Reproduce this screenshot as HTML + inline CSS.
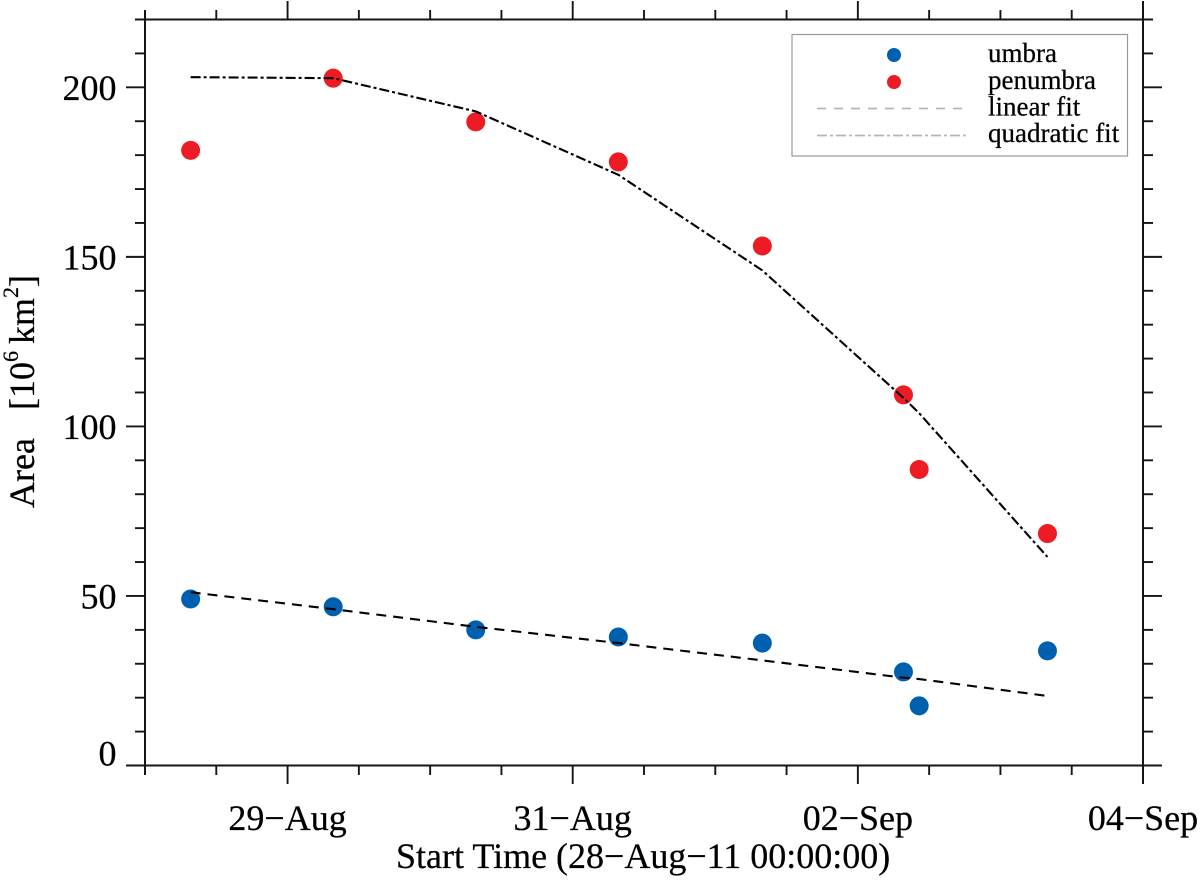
<!DOCTYPE html>
<html lang="en">
<head>
<meta charset="utf-8">
<title>Umbra and penumbra area over time</title>
<style>
html,body{margin:0;padding:0;background:#fff;}
svg{display:block;}
text{font-family:"Liberation Serif",serif;fill:#000;stroke:#000;stroke-width:.25px;}
</style>
</head>
<body>
<svg id="chart" xmlns="http://www.w3.org/2000/svg" width="1200" height="881" viewBox="0 0 1200 881"></svg>
<script>
const xMajorDays = [1, 3, 5, 7];
const xMajorLabels = ["29\u2212Aug", "31\u2212Aug", "02\u2212Sep", "04\u2212Sep"];
const xMinorDays = [0, 0.5, 1.5, 2, 2.5, 3.5, 4, 4.5, 5.5, 6, 6.5];
const yMajorValues = [0, 50, 100, 150, 200];
const yMinorValues = [10, 20, 30, 40, 60, 70, 80, 90, 110, 120, 130, 140, 160, 170, 180, 190, 210, 220];
const obsDays = [0.32, 1.32, 2.32, 3.32, 4.33, 5.32, 5.43, 6.33];
const umbraValues = [49.1, 46.8, 40.0, 37.9, 36.1, 27.6, 17.6, 33.8];
const penumbraValues = [181.4, 202.7, 189.8, 178.0, 153.2, 109.3, 87.3, 68.4];
const linearFitValues = [51.1, 46.1, 40.9, 36.1, 31.0, 25.9, 25.5, 20.5];
const quadraticFitValues = [203.0, 202.7, 192.9, 174.2, 146.0, 108.4, 103.9, 61.5];

const NS = "http://www.w3.org/2000/svg";
const svg = document.getElementById("chart");
const X0 = 145, X1 = 1143, Y0 = 765.5, Y1 = 19.5;
const xScale = d => X0 + d * (X1 - X0) / 7;
const yScale = v => Y0 - v * (Y0 - Y1) / 220;
const AXIS = "#151515";

function line(x1, y1, x2, y2, color, width, parent) {
  const el = document.createElementNS(NS, "line");
  el.setAttribute("x1", x1);
  el.setAttribute("y1", y1);
  el.setAttribute("x2", x2);
  el.setAttribute("y2", y2);
  el.setAttribute("stroke", color);
  el.setAttribute("stroke-width", width);
  (parent || svg).appendChild(el);
  return el;
}
function text(str, x, y, size, anchor) {
  const el = document.createElementNS(NS, "text");
  el.setAttribute("x", x);
  el.setAttribute("y", y);
  el.setAttribute("font-size", size);
  el.setAttribute("text-anchor", anchor || "start");
  el.textContent = str;
  svg.appendChild(el);
  return el;
}
function dot(x, y, color) {
  const el = document.createElementNS(NS, "circle");
  el.setAttribute("cx", x);
  el.setAttribute("cy", y);
  el.setAttribute("r", 9.5);
  el.setAttribute("fill", color);
  svg.appendChild(el);
  return el;
}
function fitLine(values, dash) {
  const el = document.createElementNS(NS, "polyline");
  el.setAttribute("points", values.map((v, i) => xScale(obsDays[i]) + "," + yScale(v)).join(" "));
  el.setAttribute("fill", "none");
  el.setAttribute("stroke", "#000");
  el.setAttribute("stroke-width", 2.1);
  el.setAttribute("stroke-dasharray", dash);
  svg.appendChild(el);
  return el;
}

/* axis frame */
const leftAxis = line(X0, 10, X0, 775, AXIS, 2);


const rightAxis = line(X1, 1, X1, 784, AXIS, 2);


const topAxis = line(135, Y1, 1153, Y1, AXIS, 2);


const bottomAxis = line(126, Y0, 1162, Y0, AXIS, 2);



/* x ticks */
xMinorDays.forEach(d => {
  const b = line(xScale(d), Y0, xScale(d), 775, AXIS, 1.9);
  
  
  const t = line(xScale(d), Y1, xScale(d), 10, AXIS, 1.9);
  
  
});
xMajorDays.forEach((d, i) => {
  const b = line(xScale(d), Y0, xScale(d), 784, AXIS, 1.9);
  
  
  const t = line(xScale(d), Y1, xScale(d), 1, AXIS, 1.9);
  
  
  const l = text(xMajorLabels[i], xScale(d), 830, 36, "middle");
  
  
});

/* y ticks */
yMinorValues.forEach(v => {
  const a = line(135, yScale(v), X0, yScale(v), AXIS, 1.9);
  
  
  const b = line(X1, yScale(v), 1153, yScale(v), AXIS, 1.9);
  
  
});
yMajorValues.forEach(v => {
  const a = line(126, yScale(v), X0, yScale(v), AXIS, 1.9);
  
  
  const b = line(X1, yScale(v), 1162, yScale(v), AXIS, 1.9);
  
  
  const l = text(String(v), 116.5, v === 0 ? yScale(v) : yScale(v) + 12.5, 36, "end");
  
  
});

/* points below fit lines */
umbraValues.forEach((v, i) => {
  const c = dot(xScale(obsDays[i]), yScale(v), "#0060b0");
  
  
});
penumbraValues.forEach((v, i) => {
  const c = dot(xScale(obsDays[i]), yScale(v), "#ed1c24");
  
  
});

/* fits */
const linFit = fitLine(linearFitValues, "10 7");


const quadFit = fitLine(quadraticFitValues, "10 3 3 3");



/* axis titles */
const xTitle = text("Start Time (28\u2212Aug\u221211 00:00:00)", 396, 868, 36);



const yTitle = document.createElementNS(NS, "text");


yTitle.setAttribute("transform", "translate(34,508) rotate(-90)");
yTitle.setAttribute("font-size", 36);
const yTitleParts = [
  ["Area", 0, 0, 36],
  ["[10", 28, 0, 36],
  ["6", 0, -16, 22],
  ["km", 7, 16, 36],
  ["2", 0, -16, 22],
  ["]", 0, 16, 36]
];
yTitleParts.forEach(p => {
  const s = document.createElementNS(NS, "tspan");
  s.setAttribute("dx", p[1]);
  s.setAttribute("dy", p[2]);
  s.setAttribute("font-size", p[3]);
  s.textContent = p[0];
  yTitle.appendChild(s);
});
svg.appendChild(yTitle);

/* legend */
const legendBox = document.createElementNS(NS, "rect");


legendBox.setAttribute("x", 792);
legendBox.setAttribute("y", 34.5);
legendBox.setAttribute("width", 335.5);
legendBox.setAttribute("height", 121.5);
legendBox.setAttribute("fill", "#fff");
legendBox.setAttribute("stroke", "#999");
legendBox.setAttribute("stroke-width", 1.2);
svg.appendChild(legendBox);

const legUmbra = dot(894, 55, "#0060b0");
legUmbra.setAttribute("r", 7);


const legPenumbra = dot(894, 82, "#ed1c24");
legPenumbra.setAttribute("r", 7);


const legLin = line(817, 108.5, 963, 108.5, "#b5b5b5", 1.8);
legLin.setAttribute("stroke-dasharray", "9 8");


const legQuad = line(817, 135.5, 967, 135.5, "#b5b5b5", 1.8);
legQuad.setAttribute("stroke-dasharray", "10 3 3 3");



const legT1 = text("umbra", 988, 62, 27);


const legT2 = text("penumbra", 988, 89, 27);


const legT3 = text("linear fit", 988, 115.5, 27);


const legT4 = text("quadratic fit", 988, 142, 27);


</script>
</body>
</html>
